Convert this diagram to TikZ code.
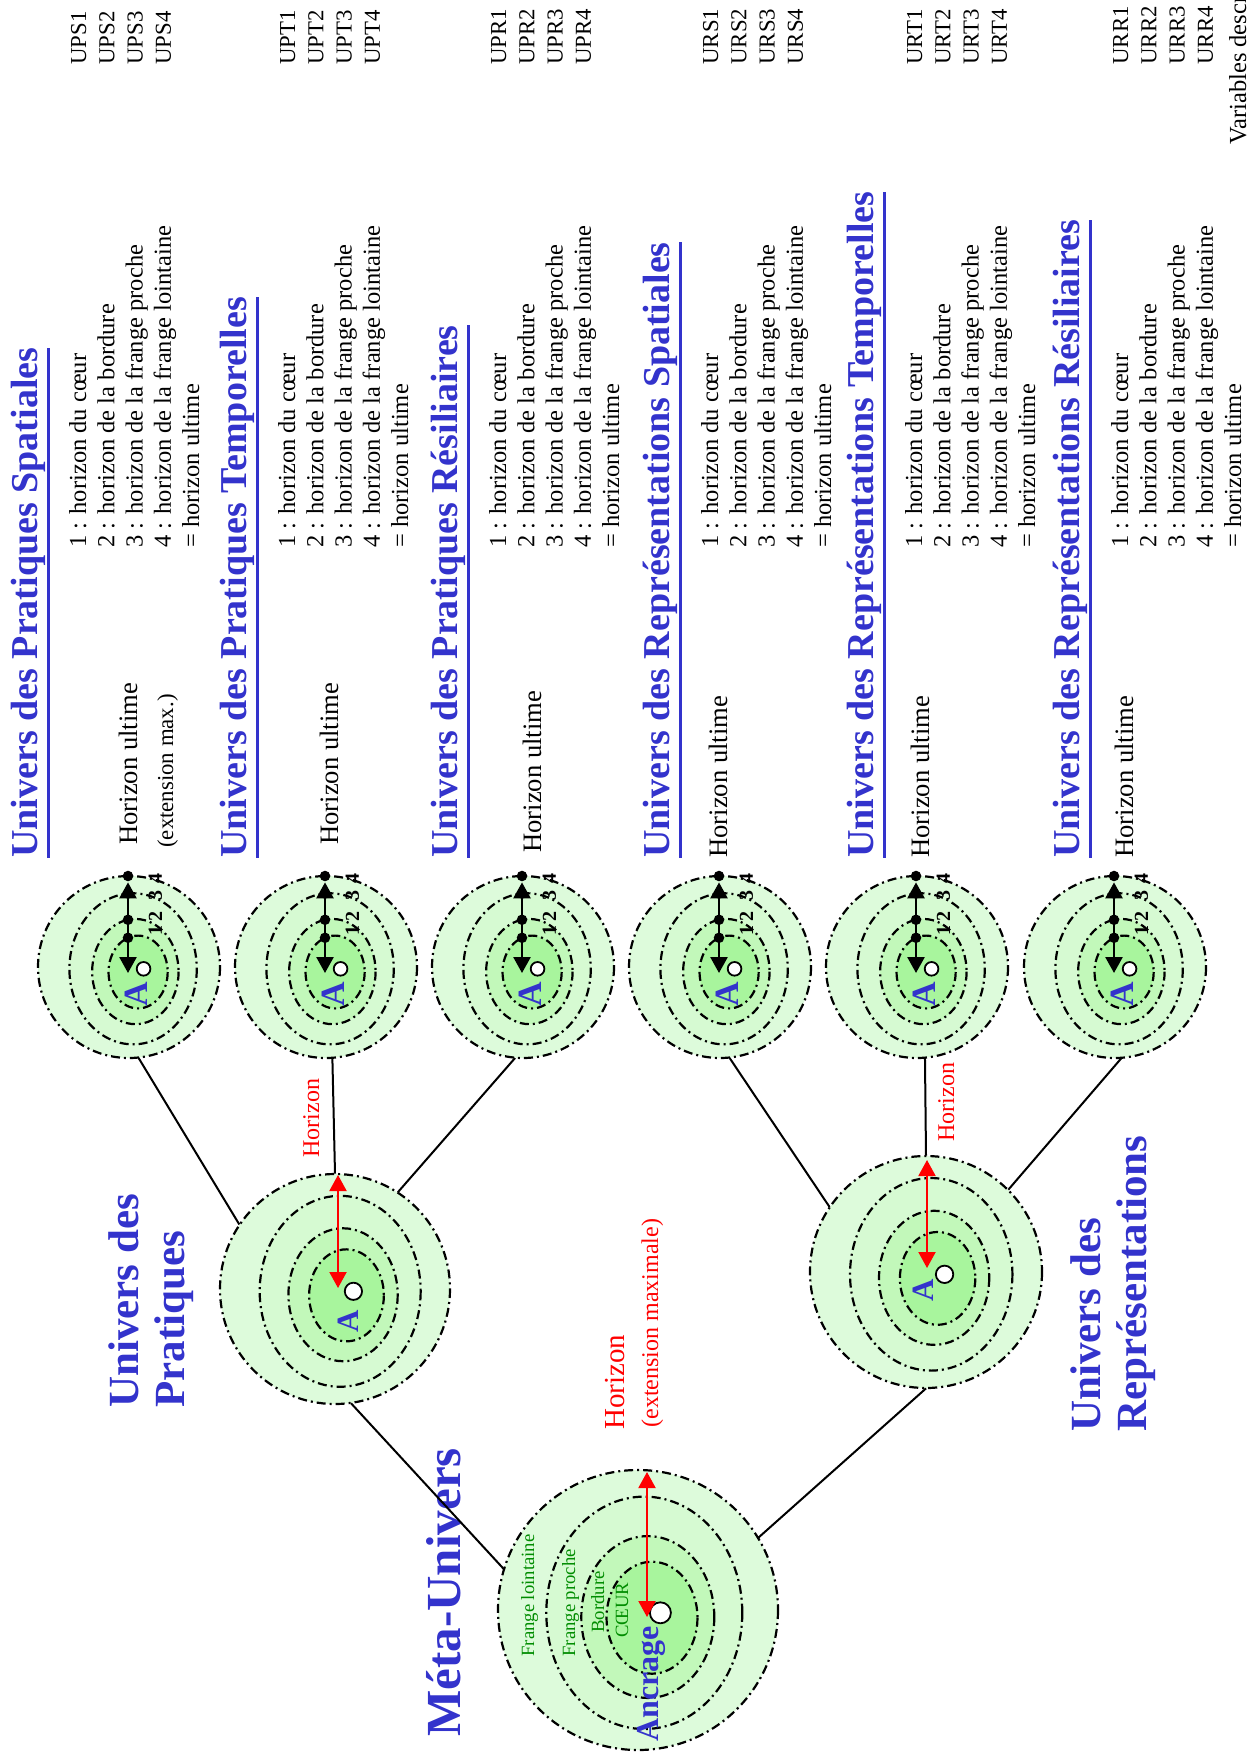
\documentclass[tikz,border=0pt]{standalone}
\usepackage{fontspec}
\setmainfont{Liberation Serif}
\usetikzlibrary{arrows.meta}
\definecolor{ublue}{RGB}{51,51,204}
\definecolor{ugreen}{RGB}{0,140,0}
\definecolor{cA}{RGB}{221,251,219}
\definecolor{cB}{RGB}{214,250,210}
\definecolor{cC}{RGB}{194,248,186}
\definecolor{cD}{RGB}{168,245,157}
\newsavebox\ulbox
\newcommand\ulin[1]{\sbox\ulbox{#1}\rlap{\rule[-6.3pt]{\wd\ulbox}{1.3pt}}\usebox\ulbox}
\newcommand\fs[1]{\fontsize{#1pt}{#1pt}\selectfont}
\tikzset{
  ring/.style={draw=black, line width=1.1pt, dash pattern=on 4.5pt off 2pt on 1pt off 2pt},
  rt/.style={rotate=90, anchor=base west, inner sep=0pt},
  conn/.style={draw=black, line width=1pt},
  redarr/.style={draw=red, line width=1pt, {Triangle[width=8.5pt,length=8pt]}-{Triangle[width=8.5pt,length=8pt]}},
  blkarr/.style={draw=black, line width=1.3pt, {Triangle[width=8.5pt,length=8pt]}-{Triangle[width=8.5pt,length=8pt]}},
  num/.style={rotate=90, anchor=center, inner sep=0pt, font=\bfseries\fs{10}},
  titletext/.style={rt, text=ublue, font=\bfseries\fs{19}},
  rowtext/.style={rt, font=\fs{12.25}},
  labtext/.style={rt, font=\fs{11.4}},
  hutext/.style={rt, font=\fs{13.3}},
  bigblue/.style={rt, text=ublue, font=\bfseries\fs{21.5}},
  greentext/.style={rt, text=ugreen, font=\fs{9.35}},
}
% disk with rings: name, x, y, R (px)
\newcommand\rings[4]{%
  \node[circle, minimum size=#4pt, inner sep=0pt, draw=none] (#1) at (#2,#3) {};
  \begin{scope}[shift={(#2,#3)}, scale=#4]
    \filldraw[ring, fill=cA] (0,0) circle[radius=1];
    \filldraw[ring, fill=cB] (0.045,0.02) ellipse[x radius=0.70, y radius=0.83];
    \filldraw[ring, fill=cC] (0.07,0.05) ellipse[x radius=0.475, y radius=0.578];
    \filldraw[ring, fill=cD] (0.10,0.055) ellipse[x radius=0.325, y radius=0.40];
    \filldraw[draw=black, line width=0.9pt, fill=white] (0.16,0.02) circle[radius=0.075];
  \end{scope}}
% small disk: name, x, y
\newcommand\smalldisk[3]{%
  \rings{#1}{#2}{#3}{91}
  \begin{scope}[shift={(#2,#3)}, scale=91]
    \coordinate (#1-a) at (-0.011,0.066);
    \coordinate (#1-b) at (-0.011,-0.93);
    \draw[blkarr] (#1-a) -- (#1-b);
    \foreach \yy in {-0.321,-0.519,-0.807,-1.0} \fill (-0.011,\yy) circle[radius=0.058];
    \node[num] (#1-n1) at (0.29,-0.40) {1};
    \node[num] (#1-n2) at (0.29,-0.55) {2};
    \node[num] (#1-n3) at (0.29,-0.79) {3};
    \node[num] (#1-n4) at (0.29,-0.97) {4};
    \node[rt, text=ublue, font=\bfseries\fs{17}] (#1-A) at (0.2,0.44) {A};
  \end{scope}}
% text section: name, title baseline, row1 baseline, HU baseline, HU start, title, prefix
\newcommand\usec[7]{%
  \node[titletext] (#1-t) at (#2,858) {\ulin{#6}};
  \node[rowtext] (#1-r1) at (#3,548) {1 : horizon du cœur};
  \node[rowtext] (#1-r2) at ({#3+28.3},548) {2 : horizon de la bordure};
  \node[rowtext] (#1-r3) at ({#3+56.6},548) {3 : horizon de la frange proche};
  \node[rowtext] (#1-r4) at ({#3+84.9},548) {4 : horizon de la frange lointaine};
  \node[rowtext] (#1-r5) at ({#3+113.2},548) {= horizon ultime};
  \node[hutext] (#1-hu) at (#4,#5) {Horizon ultime};
  \node[labtext] (#1-l1) at (#3,65) {#71};
  \node[labtext] (#1-l2) at ({#3+28.3},65) {#72};
  \node[labtext] (#1-l3) at ({#3+56.6},65) {#73};
  \node[labtext] (#1-l4) at ({#3+84.9},65) {#74};
}
\begin{document}
\begin{tikzpicture}[x=0.5pt, y=-0.5pt]
\useasboundingbox (0,0) rectangle (1249,1755);
\clip (0,0) rectangle (1249,1755);

% disks
\rings{meta}{638}{1610}{140}
\rings{prat}{335}{1289}{115}
\rings{repr}{926}{1272}{116}
\smalldisk{ups}{129}{967}
\smalldisk{upt}{326}{967}
\smalldisk{upr}{523}{967}
\smalldisk{urs}{720}{967}
\smalldisk{urt}{917}{967}
\smalldisk{urr}{1115}{967}

% red arrows
\coordinate (meta-a) at (647,1617);
\coordinate (meta-b) at (647,1472);
\draw[redarr] (meta-a) -- (meta-b);
\coordinate (prat-a) at (338,1288);
\coordinate (prat-b) at (338,1175);
\draw[redarr] (prat-a) -- (prat-b);
\coordinate (repr-a) at (927,1268);
\coordinate (repr-b) at (927,1160);
\draw[redarr] (repr-a) -- (repr-b);

% texts in disks
\node[greentext] (fl) at (534,1657) {Frange lointaine};
\node[greentext] (fp) at (575,1657) {Frange proche};
\node[greentext] (bo) at (604,1633) {Bordure};
\node[greentext] (co) at (628,1638) {CŒUR};
\node[rt, text=ublue, font=\bfseries\fs{16}] (ancrage) at (658,1742) {Ancrage};
\node[rt, text=ublue, font=\bfseries\fs{15.5}] (pratA) at (358,1333) {A};
\node[rt, text=ublue, font=\bfseries\fs{15.5}] (reprA) at (933,1302) {A};

% big labels
\node[rt, text=ublue, font=\bfseries\fs{24.5}] (metalab) at (460,1737) {Méta-Univers};
\node[bigblue] (pl1) at (138,1408) {Univers des};
\node[bigblue] (pl2) at (184,1408) {Pratiques};
\node[bigblue] (rl1) at (1100,1432) {Univers des};
\node[bigblue] (rl2) at (1146,1432) {Représentations};
\node[rt, text=red, font=\fs{14.5}] (hz) at (624,1430) {Horizon};
\node[rt, text=red, font=\fs{12}] (hzx) at (658,1428) {(extension maximale)};
\node[rt, text=red, font=\fs{12}] (hzp) at (319,1158) {Horizon};
\node[rt, text=red, font=\fs{12}] (hzr) at (954,1142) {Horizon};

% sections
\usec{s1}{37}{86}{137}{845}{Univers des Pratiques Spatiales}{UPS}
\node[rt, font=\fs{11.4}] (s1-ext) at (173,848) {(extension max.)};
\usec{s2}{246}{295}{338}{845}{Univers des Pratiques Temporelles}{UPT}
\usec{s3}{457}{506}{541}{853}{Univers des Pratiques Résiliaires}{UPR}
\usec{s4}{669}{718}{727}{858}{Univers des Représentations Spatiales}{URS}
\usec{s5}{873}{922}{929}{858}{Univers des Représentations Temporelles}{URT}
\usec{s6}{1079}{1128}{1133}{858}{Univers des Représentations Résiliaires}{URR}
\node[rt, font=\fs{12.25}] (vardesc) at (1246,145) {Variables descriptives};

% connectors
\draw[conn] (meta.163) -- (prat.278);
\draw[conn] (meta.31) -- (repr.270);
\draw[conn] (prat.146) -- (ups.276);
\draw[conn] (prat.90) -- (upt.274);
\draw[conn] (prat.57) -- (upr.265);
\draw[conn] (repr.146) -- (urs.276);
\draw[conn] (repr.90) -- (urt.275);
\draw[conn] (repr.45) -- (urr.274);
\end{tikzpicture}
\end{document}
